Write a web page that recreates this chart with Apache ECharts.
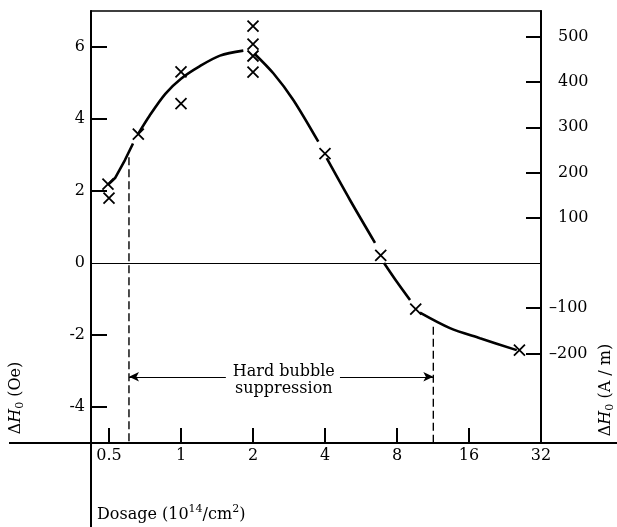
<!DOCTYPE html>
<html>
<head>
<meta charset="utf-8">
<script src="https://cdn.jsdelivr.net/npm/echarts@6/dist/echarts.min.js"></script>
<style>
  html, body { margin: 0; padding: 0; background: #fff; }
  #chart { width: 617px; height: 527px; }
</style>
</head>
<body>
<div id="chart"></div>
<script>
// measured points (dosage in 10^14/cm^2, dH0 in Oe)
var crossDosage = [0.495, 0.5, 0.663, 1, 1, 2, 2, 2, 2, 4, 6.84, 9.58, 26.0]
var crossDeltaH = [2.19, 1.80, 3.58, 5.31, 4.43, 6.58, 6.08, 5.75, 5.30, 3.04, 0.21, -1.28, -2.42]

// hand drawn curve, pen lifted at a few places
var curveSegments = [
  [[0.495, 2.17], [0.53, 2.36], [0.583, 2.86], [0.63, 3.32]],
  [[0.661, 3.58], [0.74, 4.1], [0.86, 4.7], [1.0, 5.12], [1.2, 5.47], [1.456, 5.76], [1.822, 5.90]],
  [[2.039, 5.80], [2.432, 5.27], [2.948, 4.53], [3.75, 3.37]],
  [[4.066, 2.91], [5.088, 1.75], [6.473, 0.56]],
  [[7.06, 0.0], [8.0, -0.53], [9.07, -1.03]],
  [[9.98, -1.38], [13.32, -1.81], [17.79, -2.09], [25.33, -2.42]]
]

// hard bubble suppression window
var dashLeft = [[0.606, 2.94], [0.606, -5]]
var dashRight = [[11.35, -1.77], [11.35, -5]]
var arrowY = -3.16
var arrowLeftFrom = 1.54
var arrowRightFrom = 4.62
var noteAt = [2.69, -3.25]

var xTicks = [0.5, 1, 2, 4, 8, 16, 32]
var leftTicks = [-4, -2, 2, 4, 6]
var leftLabels = [-4, -2, 0, 2, 4, 6]
var rightTicks = [-200, -100, 100, 200, 300, 400, 500]

var OE_TO_AM = 79.577
var yMin = -5, yMax = 7
var xMin = Math.pow(2, -1.25), xMax = 32

var FONT = 'DejaVu Serif'
var chart = echarts.init(document.getElementById('chart'))

var series = []
curveSegments.forEach(function (seg, i) {
  series.push({
    type: 'line',
    data: seg,
    smooth: i === 0 ? 0 : 0.3,
    symbol: 'none',
    lineStyle: {color: '#000', width: 2.6},
    silent: true
  })
})

series.push({
  type: 'scatter',
  data: crossDosage.map(function (d, i) { return [d, crossDeltaH[i]] }),
  symbol: 'path://M0,0L10,10M10,0L0,10',
  symbolSize: 11,
  itemStyle: {color: 'none', borderColor: '#000', borderWidth: 1.8, opacity: 1},
  z: 5
})

var dashStyle = {color: '#000', width: 1.4, type: [8, 4]}
series.push({
  type: 'line', data: dashLeft, symbol: 'none', lineStyle: dashStyle,
  markLine: {
    silent: true,
    symbol: ['none', 'arrow'],
    symbolSize: [7, 10],
    label: {show: false},
    lineStyle: {color: '#000', width: 1, type: 'solid'},
    itemStyle: {color: '#000'},
    data: [
      [{coord: [arrowLeftFrom, arrowY]}, {coord: [dashLeft[0][0], arrowY]}],
      [{coord: [arrowRightFrom, arrowY]}, {coord: [dashRight[0][0], arrowY]}]
    ]
  }
})
series.push({type: 'line', data: dashRight, symbol: 'none', lineStyle: dashStyle})

// zero line
series.push({
  type: 'line', data: [],
  markLine: {
    silent: true, symbol: 'none', label: {show: false},
    lineStyle: {color: '#000', width: 1.2, type: 'solid'},
    data: [{yAxis: 0}]
  }
})

series.push({
  type: 'scatter',
  data: [noteAt],
  symbolSize: 0,
  itemStyle: {opacity: 1},
  label: {
    show: true, position: 'inside',
    formatter: 'Hard bubble\nsuppression',
    color: '#000', fontFamily: FONT, fontSize: 16, lineHeight: 17
  }
})

var option = {
  animation: false,
  backgroundColor: '#fff',
  grid: {left: 91, right: 76, top: 11, bottom: 84, show: true, borderColor: '#000', borderWidth: 1.5, outerBoundsMode: 'none'},
  xAxis: {
    type: 'log', logBase: 2, min: xMin, max: xMax,
    axisLine: {onZero: false, lineStyle: {color: '#000', width: 2}},
    axisTick: {inside: true, length: 15, lineStyle: {width: 2, color: '#000'}, customValues: xTicks.slice(0, 6)},
    axisLabel: {
      customValues: xTicks, margin: 5, color: '#000', fontFamily: FONT, fontSize: 16,
      formatter: function (v) { return String(Math.round(v * 100) / 100) }
    },
    splitLine: {show: false}
  },
  yAxis: [{
    type: 'value', position: 'left', min: yMin, max: yMax,
    axisLine: {show: true, onZero: false, lineStyle: {color: '#000', width: 2}},
    axisTick: {show: true, inside: true, length: 16, lineStyle: {width: 2, color: '#000'}, customValues: leftTicks},
    axisLabel: {customValues: leftLabels, margin: 6, color: '#000', fontFamily: FONT, fontSize: 16},
    splitLine: {show: false}
  }, {
    type: 'value', position: 'right', min: yMin * OE_TO_AM, max: yMax * OE_TO_AM,
    axisLine: {show: true, onZero: false, lineStyle: {color: '#000', width: 2}},
    axisTick: {show: true, inside: true, length: 15, lineStyle: {width: 2, color: '#000'}, customValues: rightTicks},
    axisLabel: {
      customValues: rightTicks, margin: 8, color: '#000', fontFamily: FONT, fontSize: 16,
      formatter: function (v) { return v < 0 ? '\u2013' + (-v) : '{p|' + v + '}' },
      rich: {p: {padding: [0, 0, 0, 9], fontFamily: FONT, fontSize: 16, color: '#000'}}
    },
    splitLine: {show: false}
  }],
  series: series
}
chart.setOption(option)

// axis extensions and names
var corner = chart.convertToPixel({gridIndex: 0}, [xMin, yMin])
var rightX = chart.convertToPixel({gridIndex: 0}, [xMax, yMin])[0]
var txt = {fontFamily: FONT, fontSize: 16, fill: '#000', verticalAlign: 'bottom', lineHeight: 18}
var sub = {fontFamily: FONT, fontSize: 11, fill: '#000', verticalAlign: 'bottom', lineHeight: 12, padding: [0, 0, -2, 0]}
var sup = {fontFamily: FONT, fontSize: 11, fill: '#000', verticalAlign: 'bottom', lineHeight: 12, padding: [0, 0, 8, 0]}
chart.setOption({
  graphic: [
    {type: 'line', shape: {x1: 9, y1: corner[1], x2: 617, y2: corner[1]}, style: {stroke: '#000', lineWidth: 2}},
    {type: 'line', shape: {x1: corner[0], y1: corner[1], x2: corner[0], y2: 527}, style: {stroke: '#000', lineWidth: 2}},
    {
      type: 'text', x: 15, y: 398, rotation: Math.PI / 2,
      style: {
        text: '{a|\u0394}{i|H}{s|0}{a| (Oe)}', align: 'center', verticalAlign: 'middle',
        rich: {a: txt, i: Object.assign({}, txt, {fontStyle: 'italic'}), s: sub}
      }
    },
    {
      type: 'text', x: rightX + 64, y: 390, rotation: Math.PI / 2,
      style: {
        text: '{a|\u0394}{i|H}{s|0}{a| (A / m)}', align: 'center', verticalAlign: 'middle',
        rich: {a: txt, i: Object.assign({}, txt, {fontStyle: 'italic'}), s: sub}
      }
    },
    {
      type: 'text', x: corner[0] + 6, y: 514,
      style: {
        text: '{a|Dosage (10}{s|14}{a|/cm}{s|2}{a|)}', align: 'left', verticalAlign: 'middle',
        rich: {a: txt, s: sup}
      }
    }
  ]
})
</script>
</body>
</html>
